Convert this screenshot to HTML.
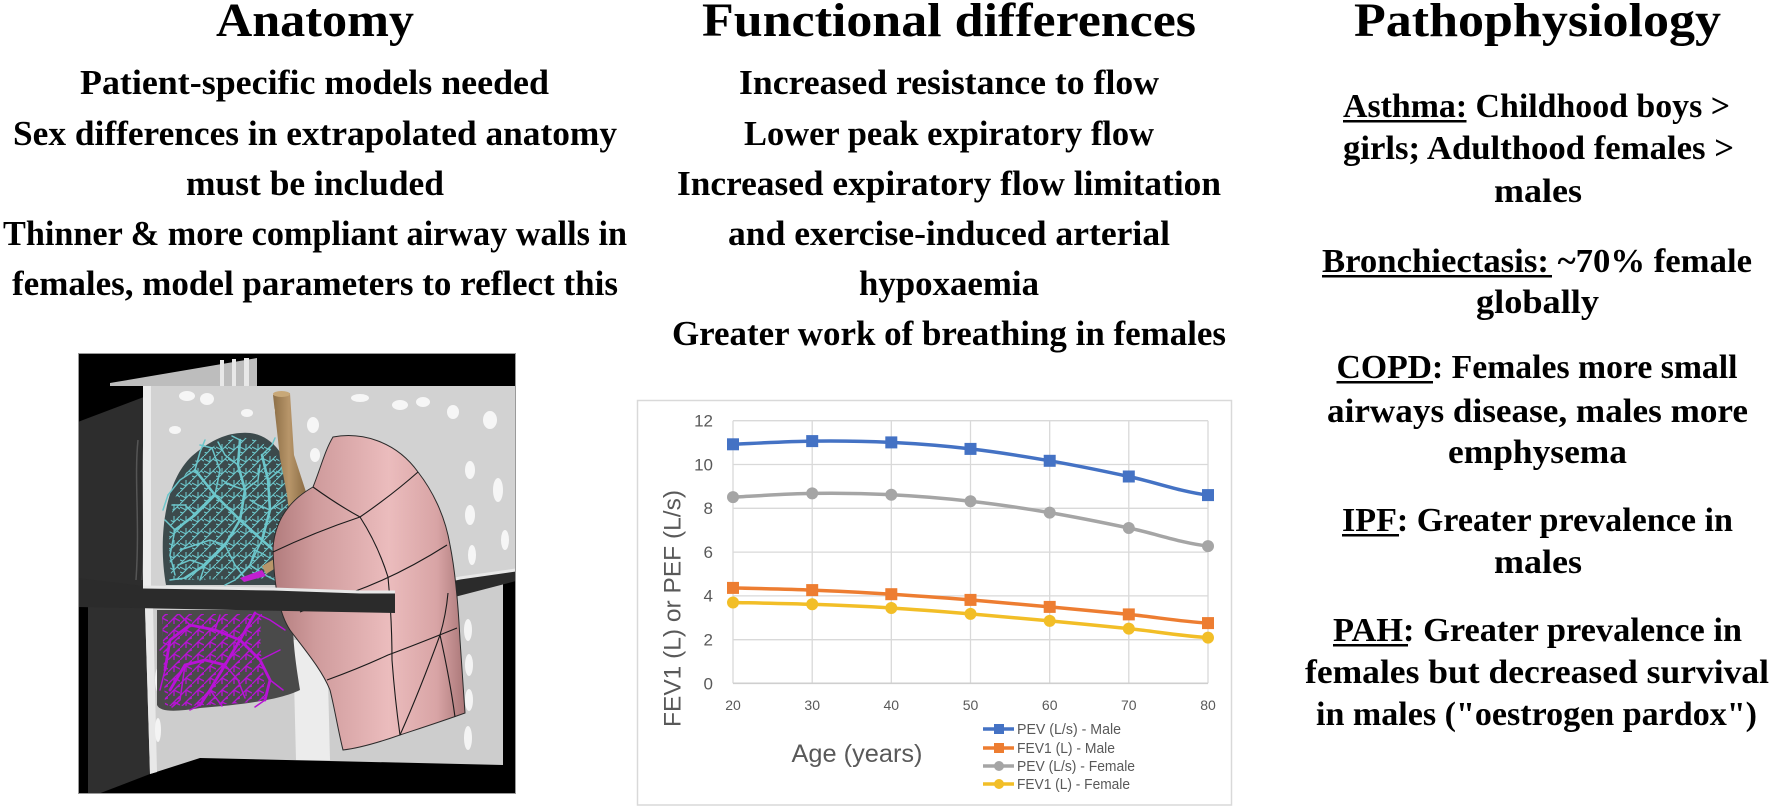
<!DOCTYPE html>
<html><head><meta charset="utf-8"><style>
html,body{margin:0;padding:0;background:#fff;}
svg{display:block}
.t{font-family:"Liberation Serif","DejaVu Serif",serif;font-weight:bold;fill:#000}
.h{font-size:48px}
.b{font-size:35px}
.r{font-size:34px}
.c{font-family:"Liberation Sans","DejaVu Sans",sans-serif;fill:#595959}
</style></head><body>
<svg width="1772" height="809" viewBox="0 0 1772 809" xmlns="http://www.w3.org/2000/svg">
<rect x="0" y="0" width="1772" height="809" fill="#fff"/>

<!-- ===== Left column text ===== -->
<text class="t h" x="216" y="36" textLength="198" lengthAdjust="spacingAndGlyphs">Anatomy</text>
<text class="t b" x="80" y="94" textLength="469" lengthAdjust="spacingAndGlyphs">Patient-specific models needed</text>
<text class="t b" x="13" y="145" textLength="604" lengthAdjust="spacingAndGlyphs">Sex differences in extrapolated anatomy</text>
<text class="t b" x="186" y="195" textLength="258" lengthAdjust="spacingAndGlyphs">must be included</text>
<text class="t b" x="3" y="245" textLength="624" lengthAdjust="spacingAndGlyphs">Thinner &amp; more compliant airway walls in</text>
<text class="t b" x="12" y="295" textLength="606" lengthAdjust="spacingAndGlyphs">females, model parameters to reflect this</text>

<!-- ===== Middle column text ===== -->
<text class="t h" x="702" y="36" textLength="494" lengthAdjust="spacingAndGlyphs">Functional differences</text>
<text class="t b" x="739" y="94" textLength="420" lengthAdjust="spacingAndGlyphs">Increased resistance to flow</text>
<text class="t b" x="744" y="145" textLength="410" lengthAdjust="spacingAndGlyphs">Lower peak expiratory flow</text>
<text class="t b" x="677" y="195" textLength="544" lengthAdjust="spacingAndGlyphs">Increased expiratory flow limitation</text>
<text class="t b" x="728" y="245" textLength="442" lengthAdjust="spacingAndGlyphs">and exercise-induced arterial</text>
<text class="t b" x="859" y="295" textLength="180" lengthAdjust="spacingAndGlyphs">hypoxaemia</text>
<text class="t b" x="672" y="345" textLength="554" lengthAdjust="spacingAndGlyphs">Greater work of breathing in females</text>

<!-- ===== Right column text ===== -->
<text class="t h" x="1354" y="36" textLength="367" lengthAdjust="spacingAndGlyphs">Pathophysiology</text>
<text class="t r" x="1343" y="117" textLength="387" lengthAdjust="spacingAndGlyphs">Asthma: Childhood boys &gt;</text>
<rect x="1343" y="120" width="123.5" height="2.5" fill="#000"/>
<text class="t r" x="1343" y="159" textLength="391" lengthAdjust="spacingAndGlyphs">girls; Adulthood females &gt;</text>
<text class="t r" x="1494" y="202" textLength="88" lengthAdjust="spacingAndGlyphs">males</text>
<text class="t r" x="1322" y="272" textLength="430" lengthAdjust="spacingAndGlyphs">Bronchiectasis: ~70% female</text>
<rect x="1322" y="275" width="230" height="2.5" fill="#000"/>
<text class="t r" x="1476" y="313" textLength="123" lengthAdjust="spacingAndGlyphs">globally</text>
<text class="t r" x="1336.5" y="378" textLength="401" lengthAdjust="spacingAndGlyphs">COPD: Females more small</text>
<rect x="1336.5" y="381" width="96.5" height="2.5" fill="#000"/>
<text class="t r" x="1327" y="422" textLength="421" lengthAdjust="spacingAndGlyphs">airways disease, males more</text>
<text class="t r" x="1448" y="463" textLength="179" lengthAdjust="spacingAndGlyphs">emphysema</text>
<text class="t r" x="1342" y="531" textLength="391" lengthAdjust="spacingAndGlyphs">IPF: Greater prevalence in</text>
<rect x="1342" y="534" width="57" height="2.5" fill="#000"/>
<text class="t r" x="1494" y="573" textLength="88" lengthAdjust="spacingAndGlyphs">males</text>
<text class="t r" x="1333" y="641" textLength="409" lengthAdjust="spacingAndGlyphs">PAH: Greater prevalence in</text>
<rect x="1333" y="644" width="75" height="2.5" fill="#000"/>
<text class="t r" x="1305" y="683" textLength="464" lengthAdjust="spacingAndGlyphs">females but decreased survival</text>
<text class="t r" x="1316" y="725" textLength="441" lengthAdjust="spacingAndGlyphs">in males ("oestrogen pardox")</text>

<!-- ===== Chart ===== -->
<rect x="637.5" y="400.5" width="594" height="404.5" fill="#fff" stroke="#d9d9d9" stroke-width="1.5"/>
<g stroke="#d9d9d9" stroke-width="1.3" fill="none">
  <line x1="733" y1="420.7" x2="1208" y2="420.7"/>
  <line x1="733" y1="464.5" x2="1208" y2="464.5"/>
  <line x1="733" y1="508.3" x2="1208" y2="508.3"/>
  <line x1="733" y1="552.1" x2="1208" y2="552.1"/>
  <line x1="733" y1="595.9" x2="1208" y2="595.9"/>
  <line x1="733" y1="639.7" x2="1208" y2="639.7"/>
  <line x1="733" y1="420.7" x2="733" y2="683.3"/>
  <line x1="812.2" y1="420.7" x2="812.2" y2="683.3"/>
  <line x1="891.3" y1="420.7" x2="891.3" y2="683.3"/>
  <line x1="970.5" y1="420.7" x2="970.5" y2="683.3"/>
  <line x1="1049.7" y1="420.7" x2="1049.7" y2="683.3"/>
  <line x1="1128.8" y1="420.7" x2="1128.8" y2="683.3"/>
  <line x1="1208" y1="420.7" x2="1208" y2="683.3"/>
</g>
<line x1="733" y1="683.3" x2="1208" y2="683.3" stroke="#cfcfcf" stroke-width="1.6"/>

<g class="c" font-size="17" text-anchor="end">
  <text x="713" y="426.5">12</text>
  <text x="713" y="470.3">10</text>
  <text x="713" y="514.1">8</text>
  <text x="713" y="557.9">6</text>
  <text x="713" y="601.7">4</text>
  <text x="713" y="645.5">2</text>
  <text x="713" y="689.3">0</text>
</g>
<g class="c" font-size="14" text-anchor="middle">
  <text x="733" y="710">20</text>
  <text x="812.2" y="710">30</text>
  <text x="891.3" y="710">40</text>
  <text x="970.5" y="710">50</text>
  <text x="1049.7" y="710">60</text>
  <text x="1128.8" y="710">70</text>
  <text x="1208" y="710">80</text>
</g>
<text class="c" font-size="24.5" text-anchor="middle" transform="translate(680.5,608.5) rotate(-90)" textLength="237" lengthAdjust="spacingAndGlyphs">FEV1 (L) or PEF (L/s)</text>
<text class="c" font-size="25" x="791.5" y="762" textLength="131" lengthAdjust="spacingAndGlyphs">Age (years)</text>

<!-- series -->
<g fill="none" stroke-width="3.5" stroke-linejoin="round" stroke-linecap="round">
  <path stroke="#4472c4" d="M733,444.3 C746.2,443.8 785.8,441.4 812.2,441.1 C838.6,440.8 864.9,441.1 891.3,442.4 C917.7,443.7 944.1,445.8 970.5,448.9 C996.9,452 1023.3,456.2 1049.7,460.8 C1076.1,465.4 1102.4,470.8 1128.8,476.5 C1155.2,482.2 1181.6,492 1208,495.1"/>
  <path stroke="#ed7d31" d="M733,587.9 C746.2,588.3 785.8,589.05 812.2,590.1 C838.6,591.15 864.9,592.6 891.3,594.2 C917.7,595.8 944.1,597.8 970.5,599.9 C996.9,602 1023.3,604.5 1049.7,606.9 C1076.1,609.3 1102.4,611.7 1128.8,614.4 C1155.2,617.1 1181.6,621.6 1208,623.1"/>
  <path stroke="#a5a5a5" d="M733,497.1 C746.2,496.5 785.8,493.8 812.2,493.4 C838.6,493 864.9,493.4 891.3,494.7 C917.7,496 944.1,498.2 970.5,501.2 C996.9,504.2 1023.3,508.1 1049.7,512.6 C1076.1,517.1 1102.4,522.4 1128.8,528 C1155.2,533.6 1181.6,543.1 1208,546.1"/>
  <path stroke="#f2be27" d="M733,602.5 C746.2,602.8 785.8,603.4 812.2,604.3 C838.6,605.2 864.9,606.4 891.3,608 C917.7,609.6 944.1,611.75 970.5,613.9 C996.9,616 1023.3,618.45 1049.7,620.9 C1076.1,623.35 1102.4,625.8 1128.8,628.6 C1155.2,631.4 1181.6,636.1 1208,637.6"/>
</g>
<g fill="#4472c4">
  <rect x="727" y="438.3" width="12" height="12"/>
  <rect x="806.2" y="435.1" width="12" height="12"/>
  <rect x="885.3" y="436.4" width="12" height="12"/>
  <rect x="964.5" y="442.9" width="12" height="12"/>
  <rect x="1043.7" y="454.8" width="12" height="12"/>
  <rect x="1122.8" y="470.5" width="12" height="12"/>
  <rect x="1202" y="489.1" width="12" height="12"/>
</g>
<g fill="#ed7d31">
  <rect x="727" y="581.9" width="12" height="12"/>
  <rect x="806.2" y="584.1" width="12" height="12"/>
  <rect x="885.3" y="588.2" width="12" height="12"/>
  <rect x="964.5" y="593.9" width="12" height="12"/>
  <rect x="1043.7" y="600.9" width="12" height="12"/>
  <rect x="1122.8" y="608.4" width="12" height="12"/>
  <rect x="1202" y="617.1" width="12" height="12"/>
</g>
<g fill="#a5a5a5">
  <circle cx="733" cy="497.1" r="6"/>
  <circle cx="812.2" cy="493.4" r="6"/>
  <circle cx="891.3" cy="494.7" r="6"/>
  <circle cx="970.5" cy="501.2" r="6"/>
  <circle cx="1049.7" cy="512.6" r="6"/>
  <circle cx="1128.8" cy="528" r="6"/>
  <circle cx="1208" cy="546.1" r="6"/>
</g>
<g fill="#f2be27">
  <circle cx="733" cy="602.5" r="6"/>
  <circle cx="812.2" cy="604.3" r="6"/>
  <circle cx="891.3" cy="608" r="6"/>
  <circle cx="970.5" cy="613.9" r="6"/>
  <circle cx="1049.7" cy="620.9" r="6"/>
  <circle cx="1128.8" cy="628.6" r="6"/>
  <circle cx="1208" cy="637.6" r="6"/>
</g>

<!-- legend -->
<g stroke-width="3.5">
  <line x1="983" y1="729" x2="1014" y2="729" stroke="#4472c4"/>
  <line x1="983" y1="748" x2="1014" y2="748" stroke="#ed7d31"/>
  <line x1="983" y1="766" x2="1014" y2="766" stroke="#a5a5a5"/>
  <line x1="983" y1="784" x2="1014" y2="784" stroke="#f2be27"/>
</g>
<rect x="994" y="724" width="10" height="10" fill="#4472c4"/>
<rect x="994" y="743" width="10" height="10" fill="#ed7d31"/>
<circle cx="999" cy="766" r="5" fill="#a5a5a5"/>
<circle cx="999" cy="784" r="5" fill="#f2be27"/>
<g class="c" font-size="14.5">
  <text x="1017" y="734" textLength="104" lengthAdjust="spacingAndGlyphs">PEV (L/s) - Male</text>
  <text x="1017" y="753" textLength="98" lengthAdjust="spacingAndGlyphs">FEV1 (L) - Male</text>
  <text x="1017" y="771" textLength="118" lengthAdjust="spacingAndGlyphs">PEV (L/s) - Female</text>
  <text x="1017" y="789" textLength="113" lengthAdjust="spacingAndGlyphs">FEV1 (L) - Female</text>
</g>

<!-- ===== Lung image ===== -->
<defs>
  <clipPath id="lclip"><rect x="78" y="353" width="438" height="441"/></clipPath>
  <linearGradient id="pink" gradientUnits="userSpaceOnUse" x1="273" y1="0" x2="466" y2="0">
    <stop offset="0" stop-color="#b27c7d"/>
    <stop offset="0.22" stop-color="#cf9b9c"/>
    <stop offset="0.6" stop-color="#ebbcbd"/>
    <stop offset="0.85" stop-color="#d8a4a5"/>
    <stop offset="1" stop-color="#a87576"/>
  </linearGradient>
  <linearGradient id="trach" gradientUnits="userSpaceOnUse" x1="272" y1="0" x2="306" y2="0">
    <stop offset="0" stop-color="#8a6c44"/>
    <stop offset="0.5" stop-color="#b8966a"/>
    <stop offset="1" stop-color="#8a6c44"/>
  </linearGradient>
  <pattern id="cyp" patternUnits="userSpaceOnUse" width="12" height="12">
    <path d="M0,12 L6,6 L12,0 M6,6 L6,0 M6,6 L0,3 M3,9 L0,8 M9,3 L12,5" stroke="#6cc6cb" stroke-width="1.1" fill="none"/>
  </pattern>
  <pattern id="mgp" patternUnits="userSpaceOnUse" width="12" height="12">
    <path d="M12,0 L6,6 L0,12 M6,6 L6,12 M6,6 L12,9 M9,3 L12,2" stroke="#b812d6" stroke-width="1.3" fill="none"/>
  </pattern>
</defs>
<g clip-path="url(#lclip)">
  <rect x="78" y="353" width="438" height="441" fill="#000"/>
  <!-- top thin slab -->
  <polygon points="110,383 257,358 257,386 110,386" fill="#bdbdbd"/>
  <rect x="220" y="360" width="4" height="26" fill="#e8e8e8"/>
  <rect x="232" y="359" width="4" height="27" fill="#e8e8e8"/>
  <rect x="244" y="358" width="5" height="28" fill="#e8e8e8"/>
  <!-- left dark panel -->
  <polygon points="83,420 157,392 157,607 78,607 78,422" fill="#2d2d2d"/>
  <polygon points="88,607 150,607 150,774 98,794 88,794" fill="#2f2f2f"/>
  <path d="M138,440 C134,480 140,520 136,580" stroke="#555" stroke-width="1.5" fill="none"/>
  <path d="M144,440 C140,480 146,520 142,580" stroke="#555" stroke-width="1" fill="none"/>
  <!-- upper CT slab -->
  <polygon points="143,386 516,386 516,570 460,578 393,592 360,592 273,588 143,586" fill="#d2d2d2"/>
  <rect x="143" y="386" width="8" height="200" fill="#ececec"/>
  <g fill="#f6f6f6">
    <ellipse cx="187" cy="396" rx="8" ry="5"/>
    <ellipse cx="207" cy="399" rx="7" ry="6"/>
    <ellipse cx="247" cy="413" rx="6" ry="4"/>
    <ellipse cx="313" cy="425" rx="6" ry="8"/>
    <ellipse cx="315" cy="455" rx="5" ry="7"/>
    <ellipse cx="400" cy="405" rx="8" ry="5"/>
    <ellipse cx="423" cy="402" rx="7" ry="5"/>
    <ellipse cx="453" cy="412" rx="6" ry="7"/>
    <ellipse cx="490" cy="420" rx="7" ry="9"/>
    <ellipse cx="470" cy="470" rx="5" ry="9"/>
    <ellipse cx="470" cy="515" rx="5" ry="10"/>
    <ellipse cx="472" cy="555" rx="4" ry="10"/>
    <ellipse cx="498" cy="490" rx="5" ry="12"/>
    <ellipse cx="175" cy="430" rx="6" ry="4"/>
    <ellipse cx="280" cy="410" rx="6" ry="4"/>
    <ellipse cx="360" cy="398" rx="9" ry="4"/>
    <ellipse cx="505" cy="540" rx="4" ry="10"/>
  </g>
  <!-- upper lung dark region with cyan tree -->
  <path id="ul" d="M240,433 C268,430 286,452 292,482 L294,585 L166,585 C158,540 164,482 192,456 C208,442 224,434 240,433 Z" fill="#3c4a4c"/>
  <path d="M240,438 C266,436 282,456 288,484 L289,578 L172,580 C165,540 170,486 196,460 C210,446 226,439 240,438 Z" fill="url(#cyp)"/>
  <g stroke="#6cc6cb" fill="none" stroke-linecap="round">
    <g stroke-width="2.6">
      <path d="M285,560 L262,540 L240,520 L215,495 L195,470"/>
      <path d="M262,540 L270,510 L268,480 L262,455"/>
      <path d="M240,520 L245,490 L238,465 L240,440"/>
      <path d="M240,520 L225,545 L205,565 L185,578"/>
      <path d="M215,495 L195,515 L175,530"/>
    </g>
    <g stroke-width="1.5">
      <path d="M262,540 L250,565 L235,580"/>
      <path d="M215,495 L220,470 L212,448"/>
      <path d="M195,470 L180,480 L168,495"/>
      <path d="M195,470 L200,452 L205,440"/>
      <path d="M225,545 L235,565 L245,578"/>
      <path d="M205,565 L200,580"/>
      <path d="M268,480 L280,470 L286,460"/>
      <path d="M250,565 L265,575 L275,580"/>
      <path d="M175,530 L170,555 L175,575"/>
      <path d="M185,578 L170,580"/>
      <path d="M238,465 L225,455 L218,442"/>
      <path d="M270,510 L285,500"/>
      <path d="M262,455 L272,445 L275,438"/>
      <path d="M240,440 L232,436"/>
      <path d="M195,515 L185,505 L172,505"/>
      <path d="M175,530 L165,520"/>
      <path d="M225,545 L210,540 L195,545 L180,550"/>
      <path d="M245,490 L258,480 L260,465"/>
      <path d="M245,490 L230,485 L222,480"/>
      <path d="M270,510 L258,505 L250,500"/>
      <path d="M205,565 L190,560 L178,565"/>
      <path d="M212,448 L200,445"/>
      <path d="M235,580 L225,585"/>
      <path d="M168,495 L163,510"/>
      <path d="M250,565 L255,550 L265,555"/>
    </g>
  </g>
  <!-- trachea -->
  <path d="M273,395 L290,393 L294,455 L307,495 L307,515 L290,520 L287,495 L280,458 Z" fill="url(#trach)"/>
  <ellipse cx="281.5" cy="394" rx="8.5" ry="3" fill="#c8a878"/>
  <path d="M262,566 L276,558 L279,566 L266,574 Z" fill="#b8966a"/>
  <path d="M240,578 L262,570 L266,576 L244,582 Z" fill="#c020d0"/>
  <!-- lower CT -->
  <polygon points="145,607 393,613 503,582 503,765 200,758 150,774" fill="#cdcdcd"/>
  <polygon points="145,607 153,607 157,772 150,774" fill="#e8e8e8"/>
  <path d="M293,640 L327,640 L330,760 L296,760 Z" fill="#ececec"/>
  <g fill="#f4f4f4">
    <ellipse cx="468" cy="630" rx="4" ry="11"/>
    <ellipse cx="469" cy="665" rx="4" ry="11"/>
    <ellipse cx="469" cy="700" rx="4" ry="11"/>
    <ellipse cx="468" cy="738" rx="4" ry="12"/>
    <ellipse cx="158" cy="680" rx="3" ry="12"/>
    <ellipse cx="158" cy="730" rx="3" ry="12"/>
  </g>
  <!-- lower lung dark region with magenta tree -->
  <path d="M157,610 L293,610 C292,640 296,665 300,690 C280,700 240,705 200,708 C175,712 160,712 157,705 Z" fill="#4a4a4a"/>
  <path d="M162,614 L262,614 C258,640 262,670 268,700 C240,704 200,706 165,706 Z" fill="url(#mgp)"/>
  <g stroke="#b812d6" fill="none" stroke-linecap="round">
    <g stroke-width="2.8">
      <path d="M255,613 L240,640 L225,665 L210,690 L200,705"/>
      <path d="M240,640 L260,660 L270,680 L265,700"/>
      <path d="M240,640 L215,630 L190,625 L170,640 L165,670"/>
      <path d="M225,665 L205,660 L185,665 L170,690"/>
    </g>
    <g stroke-width="1.5">
      <path d="M210,690 L222,706"/>
      <path d="M260,660 L280,650"/>
      <path d="M185,665 L180,700 L172,707"/>
      <path d="M270,680 L283,690"/>
      <path d="M265,700 L255,707"/>
      <path d="M190,625 L180,615"/>
      <path d="M215,630 L220,615"/>
      <path d="M170,640 L160,650"/>
      <path d="M165,670 L160,690"/>
      <path d="M200,705 L190,710"/>
      <path d="M255,613 L270,620 L285,630"/>
      <path d="M225,665 L238,680 L245,698"/>
    </g>
  </g>
  <!-- slab right part (behind pink) -->
  <polygon points="393,592 460,578 516,570 516,581 393,613" fill="#2b2b2b"/>
  <path d="M393,592 L460,578 L516,570" stroke="#e8e8e8" stroke-width="3" fill="none"/>
  <!-- pink lung -->
  <path d="M273,548 C275,520 290,500 313,487 C320,470 325,450 333,437 C360,432 395,440 418,472 C432,490 445,515 450,545 C455,570 458,600 460,640 L465,713 C440,722 415,730 400,735 C380,742 360,748 343,750 C338,730 335,710 330,690 C322,670 305,650 290,630 C280,615 274,590 273,548 Z" fill="url(#pink)" stroke="#2a2a2a" stroke-width="1"/>
  <g stroke="#1a1a1a" stroke-width="1.1" fill="none">
    <path d="M313,487 Q338,505 360,517 Q392,495 418,472"/>
    <path d="M273,552 Q315,532 360,517"/>
    <path d="M360,517 Q378,545 388,577 Q392,620 392,660 Q395,700 400,735"/>
    <path d="M300,612 Q330,600 353,592 Q400,575 447,545"/>
    <path d="M327,680 Q360,668 388,655 Q415,645 457,628"/>
    <path d="M440,635 Q420,690 400,735"/>
    <path d="M448,593 Q446,615 440,635 Q450,680 455,717"/>
  </g>
  <!-- slab left part (in front of pink) -->
  <polygon points="78,578 143,586 273,588 360,592 395,592 395,613 78,607" fill="#2b2b2b"/>
  <path d="M143,587 L273,589 L360,592 L395,592" stroke="#e8e8e8" stroke-width="3" fill="none"/>
</g>
<rect x="78.5" y="353.5" width="437" height="440" fill="none" stroke="#9a9a9a" stroke-width="1"/>
</svg>
</body></html>
